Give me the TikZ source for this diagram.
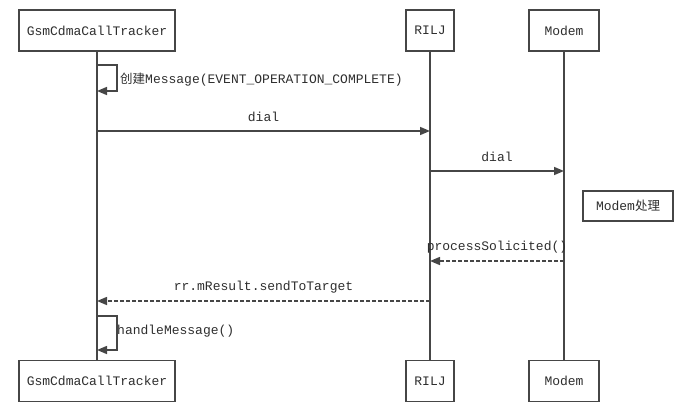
\documentclass[tikz,border=0pt]{standalone}
\usepackage{fontspec}
\setmonofont{Liberation Mono}
\newfontfamily\cjk{Noto Sans CJK SC}
\usetikzlibrary{arrows.meta}
\definecolor{linegray}{HTML}{464646}
\definecolor{textgray}{HTML}{2E2E2E}
\tikzset{
  actor/.style={draw=linegray, line width=1.5pt, fill=white, minimum height=41pt,
    inner sep=0pt, text=textgray, font=\ttfamily\fontsize{13}{15}\selectfont},
  life/.style={draw=linegray, line width=1.5pt},
  msg/.style={draw=linegray, line width=1.5pt, -{Triangle[length=10pt,width=8pt]}},
  reply/.style={msg, dash pattern=on 4pt off 2pt},
  lbl/.style={text=textgray, inner sep=0pt, font=\ttfamily\fontsize{13}{15}\selectfont},
}

\begin{document}
\begin{tikzpicture}[x=1pt,y=-1pt]
  \useasboundingbox (0,0) rectangle (699,418);
  % participants, top and bottom
  \node[actor, minimum width=156pt] (trackTop) at (97,30.5) {GsmCdmaCallTracker};
  \node[actor, minimum width=48pt] (riljTop) at (430,30.5) {RILJ};
  \node[actor, minimum width=70pt] (modemTop) at (564,30.5) {Modem};
  \node[actor, minimum width=156pt] (trackBot) at (97,381) {GsmCdmaCallTracker};
  \node[actor, minimum width=48pt] (riljBot) at (430,381) {RILJ};
  \node[actor, minimum width=70pt] (modemBot) at (564,381) {Modem};
  % lifelines
  \draw[life] (trackTop) -- (trackBot);
  \draw[life] (riljTop) -- (riljBot);
  \draw[life] (modemTop) -- (modemBot);
  % message end points
  \coordinate (selfA) at (97,65);
  \coordinate (selfB) at (97,91);
  \coordinate (dialA) at (97,131);
  \coordinate (dialB) at (430,131);
  \coordinate (dialC) at (430,171);
  \coordinate (dialD) at (564,171);
  \coordinate (procA) at (564,261);
  \coordinate (procB) at (430,261);
  \coordinate (sendA) at (430,301);
  \coordinate (sendB) at (97,301);
  \coordinate (handA) at (97,316);
  \coordinate (handB) at (97,350);
  % messages
  \draw[msg] (selfA) -- ++(20,0) |- (selfB);
  \node[lbl, anchor=west] (selfLbl) at (120,79.5) {{\cjk\fontsize{12.5}{15}\selectfont 创建}Message(EVENT\_OPERATION\_COMPLETE)};
  \draw[msg] (dialA) -- node[lbl, midway, yshift=14pt] (dialLbl) {dial} (dialB);
  \draw[msg] (dialC) -- node[lbl, midway, yshift=14pt] (dialLblB) {dial} (dialD);
  \node[draw=linegray, line width=1.5pt, minimum width=90pt, minimum height=30pt, inner sep=0pt,
    text=textgray, font=\ttfamily\fontsize{13}{15}\selectfont] (work) at (628,206)
    {Modem{\cjk\fontsize{12.5}{15}\selectfont 处理}};
  \draw[reply] (procA) -- node[lbl, midway, yshift=14pt] (procLbl) {processSolicited()} (procB);
  \draw[reply] (sendA) -- node[lbl, midway, yshift=14pt] (sendLbl) {rr.mResult.sendToTarget} (sendB);
  \draw[msg] (handA) -- ++(20,0) |- (handB);
  \node[lbl, anchor=west] (handLbl) at (117,331.5) {handleMessage()};
\end{tikzpicture}
\end{document}
